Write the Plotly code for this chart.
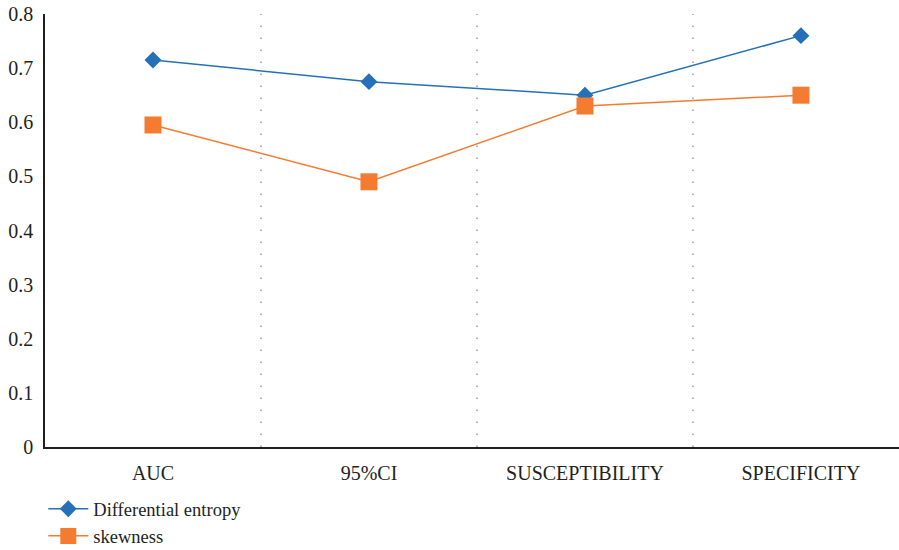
import plotly.graph_objects as go

categories = ["AUC", "95%CI", "SUSCEPTIBILITY", "SPECIFICITY"]
differential_entropy = [0.715, 0.675, 0.65, 0.76]
skewness = [0.595, 0.49, 0.63, 0.65]
y_ticks = [0, 0.1, 0.2, 0.3, 0.4, 0.5, 0.6, 0.7, 0.8]

BLUE = "#2670b9"
ORANGE = "#f47b2f"
FONT = "Liberation Serif"

x_idx = list(range(len(categories)))

fig = go.Figure()
fig.add_trace(go.Scatter(
    x=x_idx, y=differential_entropy, name="Differential entropy",
    mode="lines+markers",
    line=dict(color=BLUE, width=1.5),
    marker=dict(symbol="diamond", size=13, color=BLUE),
))
fig.add_trace(go.Scatter(
    x=x_idx, y=skewness, name="skewness",
    mode="lines+markers",
    line=dict(color=ORANGE, width=1.5),
    marker=dict(symbol="square", size=17, color=ORANGE),
))

# dotted separators between categories
for b in [0.5, 1.5, 2.5]:
    fig.add_shape(type="line", xref="x", yref="y", x0=b, x1=b, y0=0, y1=0.8,
                  line=dict(color="#9a9a9a", width=1.5, dash="1.5px,10.5px"),
                  layer="below")

fig.update_layout(
    width=899, height=550,
    margin=dict(l=45, r=0, t=14, b=103, autoexpand=False),
    paper_bgcolor="white", plot_bgcolor="white",
    font=dict(family=FONT, size=20, color="#231f20"),
    showlegend=True,
    legend=dict(
        x=-0.002, xanchor="left", y=-0.1, yanchor="top",
        orientation="v", font=dict(size=18.5, family=FONT),
        itemwidth=40, tracegroupgap=0, bgcolor="rgba(0,0,0,0)",
    ),
    xaxis=dict(
        range=[-0.5, 3.454], tickmode="array", tickvals=x_idx, ticktext=categories,
        showgrid=False, zeroline=False, showline=True, linecolor="#231f20",
        linewidth=1.5, ticks="", ticklabelstandoff=7,
    ),
    yaxis=dict(
        range=[0, 0.8], tickmode="array", tickvals=y_ticks,
        ticktext=[("%g" % v) for v in y_ticks],
        showgrid=False, zeroline=False, showline=True, linecolor="#231f20",
        linewidth=1.5, ticks="", ticklabelstandoff=6,
    ),
)

fig.write_html("out.html")
